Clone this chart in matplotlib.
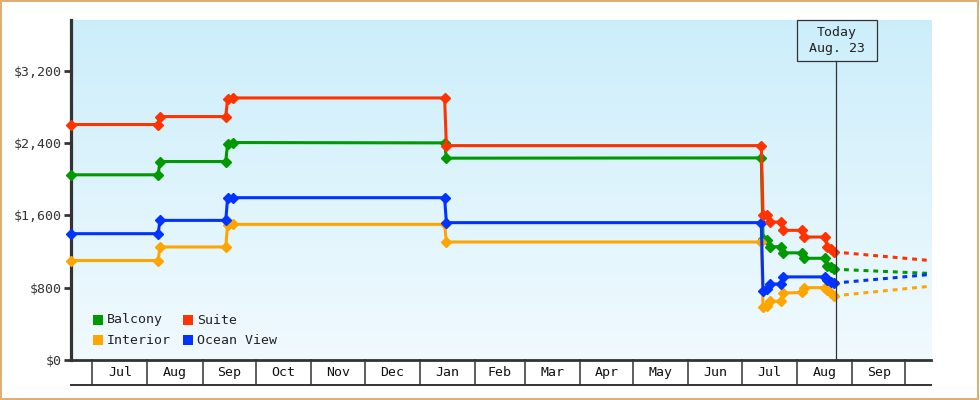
import matplotlib
matplotlib.use('Agg')
import matplotlib.pyplot as plt
import matplotlib.dates as mdates
from matplotlib.patches import Rectangle
import numpy as np
from datetime import datetime

# ---------------- data ----------------
common_dates = ["2022-06-19", "2022-08-07", "2022-08-08", "2022-09-14", "2022-09-15",
                "2022-09-18", "2023-01-15", "2023-01-16", "2023-07-12", "2023-07-13",
                "2023-07-15", "2023-07-17", "2023-07-23", "2023-07-24", "2023-08-04",
                "2023-08-05", "2023-08-17", "2023-08-18", "2023-08-20", "2023-08-22"]
ocean_dates = ["2022-06-19", "2022-08-07", "2022-08-08", "2022-09-14", "2022-09-15",
               "2022-09-18", "2023-01-15", "2023-01-16", "2023-07-12", "2023-07-13",
               "2023-07-15", "2023-07-17", "2023-07-23", "2023-07-24",
               "2023-08-17", "2023-08-18", "2023-08-20", "2023-08-22"]

balcony = [2048, 2048, 2195, 2195, 2393, 2405, 2401, 2232, 2235, 1343,
           1324, 1250, 1255, 1185, 1185, 1125, 1125, 1035, 1030, 1004]
suite = [2604, 2604, 2692, 2692, 2887, 2898, 2898, 2371, 2371, 1608,
         1600, 1526, 1526, 1434, 1434, 1360, 1360, 1250, 1232, 1195]
interior = [1100, 1100, 1250, 1250, 1489, 1500, 1500, 1305, 1305, 588,
            600, 650, 650, 740, 747, 800, 800, 772, 736, 709]
ocean_view = [1397, 1397, 1544, 1544, 1787, 1795, 1795, 1519, 1519, 765,
              790, 840, 840, 919, 919, 883, 864, 850]

proj_dates = ["2023-08-22", "2023-10-15"]
balcony_proj = [1004, 957]
suite_proj = [1195, 1100]
interior_proj = [709, 816]
ocean_proj = [850, 946]

series_names = ["Balcony", "Interior", "Ocean View", "Suite"]
series_colors = ["#009900", "#ffa500", "#0033ff", "#ff3300"]

y_ticks = [0, 800, 1600, 2400, 3200]
y_tick_labels = ["$0", "$800", "$1,600", "$2,400", "$3,200"]
month_starts = ["2022-07-01", "2022-08-01", "2022-09-01", "2022-10-01", "2022-11-01",
                "2022-12-01", "2023-01-01", "2023-02-01", "2023-03-01", "2023-04-01",
                "2023-05-01", "2023-06-01", "2023-07-01", "2023-08-01", "2023-09-01",
                "2023-10-01"]
month_labels = ["Jul", "Aug", "Sep", "Oct", "Nov", "Dec", "Jan", "Feb", "Mar",
                "Apr", "May", "Jun", "Jul", "Aug", "Sep"]
today = "2023-08-23"
today_text = "Today\nAug. 23"

# ---------------- layout ----------------
W, H = 980, 400
FONT = 'DejaVu Sans Mono'
DARK = '#333333'


def fx(x):
    return x / W


def fy(y):
    return 1 - y / H


def d(s):
    return mdates.date2num(datetime.strptime(s, "%Y-%m-%d"))


fig = plt.figure(figsize=(W / 100, H / 100), dpi=100)
fig.patch.set_facecolor('white')
ax = fig.add_axes([fx(71), fy(360), fx(931) - fx(71), fy(20) - fy(360)])

# gradient background
top_c = np.array([204, 238, 251]) / 255.0
bot_c = np.array([241, 250, 254]) / 255.0
t = np.linspace(0, 1, 256)[:, None, None]
grad = top_c[None, None, :] * (1 - t) + bot_c[None, None, :] * t
ax.imshow(grad, extent=[0, 1, 0, 1], transform=ax.transAxes, aspect='auto',
          zorder=0, interpolation='bilinear')

lw = 2.2
ms = 5.0
data = {
    "Balcony": (common_dates, balcony, balcony_proj),
    "Interior": (common_dates, interior, interior_proj),
    "Ocean View": (ocean_dates, ocean_view, ocean_proj),
    "Suite": (common_dates, suite, suite_proj),
}
for name, col in zip(series_names, series_colors):
    dts, vals, proj = data[name]
    xs = [d(s) for s in dts]
    ax.plot(xs, vals, color=col, lw=lw, marker='D', ms=ms, mec=col, mfc=col,
            zorder=5, clip_on=False, solid_joinstyle='miter')
    ax.plot([d(s) for s in proj_dates], proj, color=col, lw=lw,
            dashes=(1.6, 1.6), zorder=4, dash_capstyle='butt')

# axes limits
x0 = d("2022-07-01") - 12.0
x1 = d("2023-07-01") + 106.4
ax.set_xlim(x0, x1)
ax.set_ylim(0, 3760)

# spines / ticks
for s in ['top', 'right']:
    ax.spines[s].set_visible(False)
ax.spines['left'].set_color(DARK)
ax.spines['left'].set_linewidth(2.3)
ax.spines['bottom'].set_color(DARK)
ax.spines['bottom'].set_linewidth(2.0)
ax.set_yticks(y_ticks)
ax.set_yticklabels(y_tick_labels, fontfamily=FONT, fontsize=9.5, color=DARK)
ax.tick_params(axis='y', length=5, width=2, color=DARK, pad=2)
ax.set_xticks([])

# month boxes below axis
xt = ax.get_xaxis_transform()
box_bottom = -(385 - 360) / 340.0
ax.plot([x0, x1], [box_bottom, box_bottom], transform=xt, color=DARK, lw=1.4,
        clip_on=False)
ms_nums = [d(s) for s in month_starts]
for m in ms_nums:
    ax.plot([m, m], [0, box_bottom], transform=xt, color=DARK, lw=1.1, clip_on=False)
for i, lab in enumerate(month_labels):
    mid = (ms_nums[i] + ms_nums[i + 1]) / 2
    ax.text(mid, box_bottom / 2, lab, transform=xt, ha='center', va='center',
            fontfamily=FONT, fontsize=9.5, color='#111111', clip_on=False)

# today marker
tx = d(today)
ax.plot([tx, tx], [0, (360 - 60.7) / 340.0], transform=xt, color=DARK, lw=0.9,
        zorder=6)
fig.patches.append(Rectangle((fx(796.7), fy(60.7)), (876.7 - 796.7) / W, (60.7 - 20) / H,
                             transform=fig.transFigure, fill=False, edgecolor=DARK,
                             lw=0.9, zorder=7))
fig.text(fx(836.7), fy(40.5), today_text, ha='center', va='center', fontfamily=FONT,
         fontsize=9.5, color='#222222', linespacing=1.35)

# legend
leg_pos = {"Balcony": (93, 320), "Suite": (183, 320),
           "Interior": (93, 340), "Ocean View": (183, 340)}
for name, col in zip(series_names, series_colors):
    lx, ly = leg_pos[name]
    fig.patches.append(Rectangle((fx(lx), fy(ly + 5)), 10 / W, 10 / H,
                                 transform=fig.transFigure, facecolor=col,
                                 edgecolor='none', zorder=8))
    fig.text(fx(lx + 14), fy(ly), name, ha='left', va='center', fontfamily=FONT,
             fontsize=9.5, color='#222222', zorder=8)

# outer border
fig.patches.append(Rectangle((fx(0.8), fy(399.2)), (978.4 - 0.8) / W, (399.2 - 0.8) / H,
                             transform=fig.transFigure, fill=False,
                             edgecolor='#e0ab70', lw=1.4, zorder=10))

fig.savefig('out.png', dpi=100, facecolor='white')
